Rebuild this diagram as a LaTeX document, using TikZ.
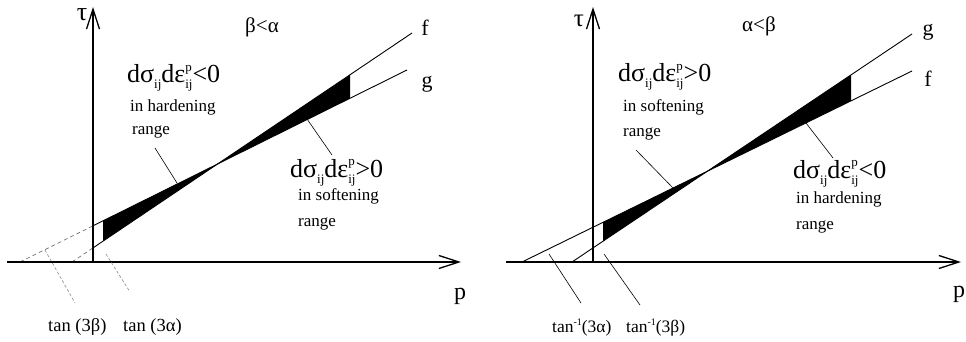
\documentclass[tikz,border=0pt]{standalone}
\usepackage{fontspec}
\setmainfont{Liberation Serif}
\usetikzlibrary{arrows.meta}
\newcommand\supsub[2]{\makebox[0pt][l]{\raisebox{11.5pt}{\fontsize{13}{13}\selectfont #1}}\raisebox{-6pt}{\fontsize{13}{13}\selectfont #2}}
\newcommand\subonly[1]{\raisebox{-6pt}{\fontsize{13}{13}\selectfont #1}}
\newcommand\dsdeps[1]{dσ\subonly{ij}dε\supsub{p}{ij}#1}
\newcommand\invsup{\raisebox{7pt}{\fontsize{10}{10}\selectfont -1}}
\tikzset{
  axis/.style={line width=1.3pt, -{Straight Barb[length=20pt,width=13pt]}},
  curve/.style={line width=0.9pt},
  faint/.style={line width=0.7pt, black!55, dash pattern=on 4pt off 3pt},
  leader/.style={line width=0.6pt},
  faintleader/.style={line width=0.6pt, black!45, dash pattern=on 3pt off 2pt},
  band/.style={fill=black},
  small/.style={anchor=base west, inner sep=0pt, font=\fontsize{17}{19}\selectfont},
  big/.style={anchor=base west, inner sep=0pt, font=\fontsize{26}{28}\selectfont},
  sym/.style={inner sep=0pt, font=\fontsize{22}{24}\selectfont},
  tanlbl/.style={anchor=base west, inner sep=0pt, font=\fontsize{18.5}{20}\selectfont},
}
\begin{document}
\begin{tikzpicture}[x=1pt,y=-1pt]
\useasboundingbox (0,0) rectangle (966,342);
% ================= LEFT PANEL =================
\coordinate (pLs) at (7,262);
\coordinate (pLe) at (461,262);
\coordinate (tLs) at (93,262);
\coordinate (tLe) at (93,7);
% g line (upper at left)
\coordinate (gL0) at (20,262);
\coordinate (gLa) at (93,225.8);
\coordinate (gLb) at (103,220.8);
\coordinate (gLc) at (350,98.3);
\coordinate (gL1) at (407,70);
% f line
\coordinate (fL0) at (72,262);
\coordinate (fLa) at (93,247.9);
\coordinate (fLb) at (103,241.1);
\coordinate (fLc) at (350,74.8);
\coordinate (fL1) at (412,33);
\fill[band] (gLb) -- (gLc) -- (fLc) -- (fLb) -- cycle;
\draw[faint] (gL0) -- (gLa);
\draw[faint] (fL0) -- (fLa);
\draw[curve] (gLa) -- (gL1);
\draw[curve] (fLa) -- (fL1);
\draw[axis] (pLs) -- (pLe);
\draw[axis] (tLs) -- (tLe);
\node[sym, font=\fontsize{26}{28}\selectfont] (tauL) at (82,15) {τ};
\node[sym, font=\fontsize{21}{23}\selectfont] (condL) at (262,27) {β<α};
\node[sym] (fLlbl) at (425,28) {f};
\node[sym] (gLlbl) at (427,84) {g};
\node[sym, font=\fontsize{24}{26}\selectfont] (pLlbl) at (460,296) {p};
\node[big] (F1L) at (127,83) {\dsdeps{<0}};
\node[small] (H1L) at (130,112) {in hardening};
\node[small] (R1L) at (132,135) {range};
\node[big] (F2L) at (290,177) {\dsdeps{>0}};
\node[small] (S2L) at (298,200) {in softening};
\node[small] (R2L) at (298,226) {range};
\node[tanlbl] (TBL) at (48,331) {tan (3β)};
\node[tanlbl] (TAL) at (123,331) {tan (3α)};
% leaders
\coordinate (l1a) at (155,148);
\coordinate (l1b) at (177,183);
\draw[leader] (l1a) -- (l1b);
\coordinate (l2a) at (307,119);
\coordinate (l2b) at (332,155);
\draw[leader] (l2a) -- (l2b);
\coordinate (l3a) at (45,250);
\coordinate (l3b) at (75,303);
\draw[faintleader] (l3a) -- (l3b);
\coordinate (l4a) at (106,254);
\coordinate (l4b) at (130,292);
\draw[faintleader] (l4a) -- (l4b);
% ================= RIGHT PANEL =================
\coordinate (pRs) at (506,262);
\coordinate (pRe) at (961,262);
\coordinate (tRs) at (593,262);
\coordinate (tRe) at (593,7);
% f line (upper at left)
\coordinate (fR0) at (522,262);
\coordinate (fRb) at (603,222.3);
\coordinate (fRc) at (851,100.8);
\coordinate (fR1) at (912,71);
% g line
\coordinate (gR0) at (572,262);
\coordinate (gRb) at (603,241.2);
\coordinate (gRc) at (851,74.8);
\coordinate (gR1) at (912,34);
\fill[band] (fRb) -- (fRc) -- (gRc) -- (gRb) -- cycle;
\draw[curve] (fR0) -- (fR1);
\draw[curve] (gR0) -- (gR1);
\draw[axis] (pRs) -- (pRe);
\draw[axis] (tRs) -- (tRe);
\node[sym, font=\fontsize{25}{27}\selectfont] (tauR) at (579,21) {τ};
\node[sym, font=\fontsize{21}{23}\selectfont] (condR) at (759,26) {α<β};
\node[sym] (gRlbl) at (928,32) {g};
\node[sym] (fRlbl) at (928,79) {f};
\node[sym, font=\fontsize{24}{26}\selectfont] (pRlbl) at (959,294) {p};
\node[big] (F1R) at (618,82) {\dsdeps{>0}};
\node[small] (S1R) at (623,112) {in softening};
\node[small] (R1R) at (623,137) {range};
\node[big] (F2R) at (793,178) {\dsdeps{<0}};
\node[small] (H2R) at (796,203) {in hardening};
\node[small] (R2R) at (796,229) {range};
\node[tanlbl, font=\fontsize{17.5}{19}\selectfont] (TAR) at (552,332) {tan\invsup(3α)};
\node[tanlbl, font=\fontsize{17.5}{19}\selectfont] (TBR) at (626,332) {tan\invsup(3β)};
% leaders
\coordinate (r1a) at (636,150);
\coordinate (r1b) at (673,188);
\draw[leader] (r1a) -- (r1b);
\coordinate (r2a) at (806,123);
\coordinate (r2b) at (833,158);
\draw[leader] (r2a) -- (r2b);
\coordinate (r3a) at (549,254);
\coordinate (r3b) at (581,303);
\draw[leader] (r3a) -- (r3b);
\coordinate (r4a) at (604,254);
\coordinate (r4b) at (640,305);
\draw[leader] (r4a) -- (r4b);
\end{tikzpicture}
\end{document}
